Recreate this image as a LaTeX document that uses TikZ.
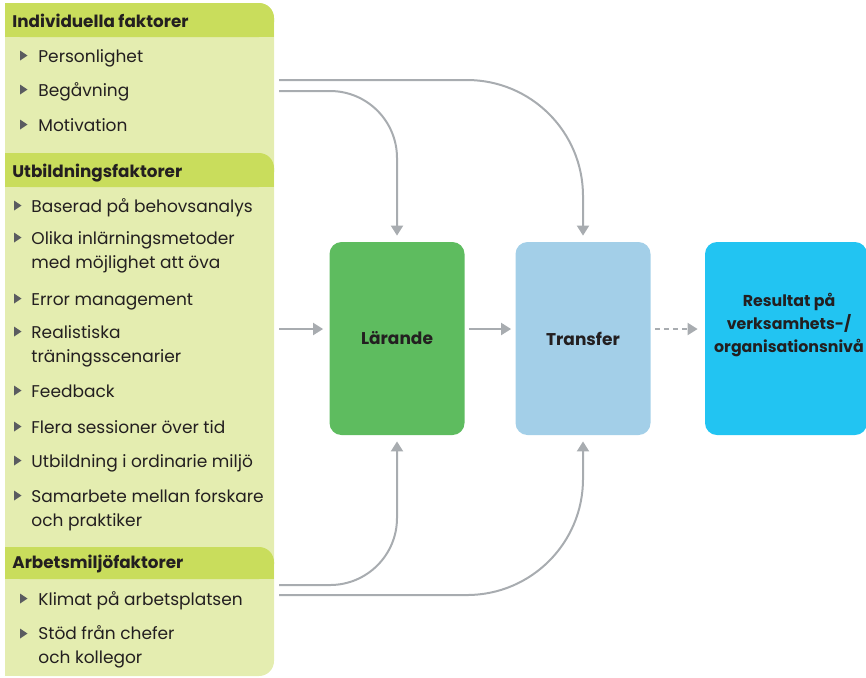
\documentclass[tikz,border=0pt]{standalone}
\usepackage{fontspec}
\setmainfont{Poppins}
\usetikzlibrary{arrows.meta, positioning}
\definecolor{headgreen}{RGB}{201, 221, 92}
\definecolor{bodygreen}{RGB}{228, 237, 176}
\definecolor{learngreen}{RGB}{94, 188, 95}
\definecolor{transblue}{RGB}{163, 207, 232}
\definecolor{resultcyan}{RGB}{34, 196, 242}
\definecolor{arrowgray}{RGB}{168, 172, 176}
\definecolor{bulletgray}{RGB}{90, 92, 96}
\definecolor{textblack}{RGB}{35, 31, 32}

% header bar: top y, bottom y
\newcommand{\headbar}[2]{%
  \fill[headgreen, rounded corners=7.5pt] (5,#1) rectangle (274,#2);
  \fill[headgreen] (5,#1) rectangle (200,#2);
  \fill[headgreen] (5,#1+16) rectangle (274,#2);
}

\begin{document}
\begin{tikzpicture}[x=0.5pt, y=-0.5pt, text=textblack,
  box/.style={rounded corners=6pt, minimum width=67.5pt, minimum height=96.5pt, inner sep=0pt,
    font=\fontsize{8.5}{11.5}\selectfont\bfseries},
  conn/.style={draw=arrowgray, line width=1pt, -{Triangle[length=5pt, width=6pt]}},
  headtxt/.style={anchor=base west, inner sep=0pt, font=\fontsize{8.4}{11}\selectfont\bfseries},
  itemtxt/.style={anchor=base west, inner sep=0pt, align=left, font=\fontsize{8.5}{12}\selectfont}]
  \useasboundingbox (0,0) rectangle (866,677);

  % left panel
  \fill[bodygreen, rounded corners=7.5pt] (5,3) rectangle (274,676);
  \fill[bodygreen] (5,3) rectangle (200,676);
  \headbar{3}{37}
  \headbar{153}{187}
  \headbar{547}{579}
  \node[headtxt] (h1) at (12,27) {Individuella faktorer};
  \node[headtxt] (h2) at (12,177) {Utbildningsfaktorer};
  \node[headtxt] (h3) at (12,568) {Arbetsmiljöfaktorer};

  % items: first baseline / last baseline / text
  \foreach \y/\l/\t [count=\i] in {62/62/Personlighet, 96/96/Begåvning, 131/131/Motivation}{
    \fill[bulletgray] (20,\y-11.5) -- (27.5,\y-6.5) -- (20,\y-1.5) -- cycle;
    \node[itemtxt] (a\i) at (38,\l) {\t};
  }
  \foreach \y/\l/\t [count=\i] in {212/212/Baserad på behovsanalys,
      244/268/{Olika inlärningsmetoder\\med möjlighet att öva},
      305/305/Error management,
      338/362/{Realistiska\\träningsscenarier},
      397/397/Feedback,
      433/433/Flera sessioner över tid,
      467/467/Utbildning i ordinarie miljö,
      502/526/{Samarbete mellan forskare\\och praktiker}}{
    \fill[bulletgray] (14,\y-11.5) -- (21.5,\y-6.5) -- (14,\y-1.5) -- cycle;
    \node[itemtxt] (b\i) at (31,\l) {\t};
  }
  \foreach \y/\l/\t [count=\i] in {605/605/Klimat på arbetsplatsen,
      640/663/{Stöd från chefer\\och kollegor}}{
    \fill[bulletgray] (20,\y-11.5) -- (27.5,\y-6.5) -- (20,\y-1.5) -- cycle;
    \node[itemtxt] (c\i) at (38,\l) {\t};
  }

  % boxes
  \node[box, fill=learngreen] (lar) at (397,338.5) {Lärande};
  \node[box, fill=transblue] (trans) at (583,338.5) {Transfer};
  \node[box, fill=resultcyan, minimum width=81pt] (res) at (786,338.5) {};
  \node[align=center, font=\fontsize{7.9}{11.5}\selectfont\bfseries] (restxt) at (789,325)
    {Resultat på\\verksamhets-/\\organisationsnivå};

  % connectors
  \coordinate (i1) at (279,80);
  \coordinate (i2) at (279,91);
  \coordinate (m1) at (279,329);
  \coordinate (w1) at (279,585);
  \coordinate (w2) at (279,595);
  \draw[conn, shorten >=3pt, rounded corners=58pt] (i1) -| (trans.north);
  \draw[conn, shorten >=3pt, rounded corners=33.5pt] (i2) -| (lar.north);
  \draw[conn, shorten >=3pt, rounded corners=33.5pt] (w1) -| (lar.south);
  \draw[conn, shorten >=3pt, rounded corners=58pt] (w2) -| (trans.south);
  \draw[conn, shorten >=3pt] (m1) -- (m1 -| lar.west);
  \draw[conn, shorten <=2pt, shorten >=2pt] (lar.east |- m1) -- (trans.west |- m1);
  \draw[conn, dash pattern=on 2.5pt off 2pt, shorten <=2pt, shorten >=3.5pt] (trans.east |- m1) -- (res.west |- m1);
\end{tikzpicture}
\end{document}
